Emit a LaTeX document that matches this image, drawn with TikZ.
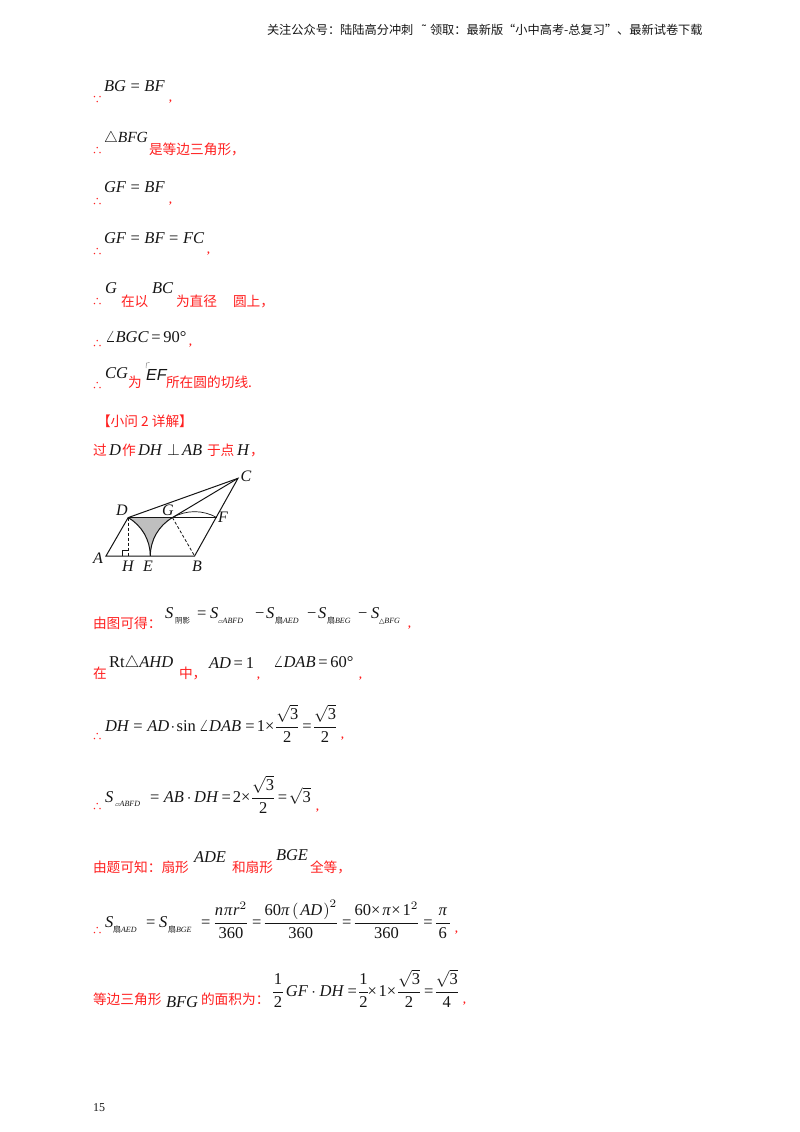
\documentclass[tikz,border=0pt]{standalone}
\usepackage{amsmath}
\usepackage{fontspec}
\usetikzlibrary{calc}
\setmainfont{Liberation Serif}
\newfontfamily\cjk{Noto Sans CJK SC}
\newfontfamily\djv{DejaVu Sans}
\newfontfamily\lsans{Liberation Sans}
\definecolor{redtx}{HTML}{FF2020}
\definecolor{ink}{HTML}{151515}
\newcounter{tn}
\newcommand\I[1]{\mbox{\itshape #1}}
\newcommand\R[1]{\mbox{#1}}
\newcommand\E{\mathrel{\mbox{=}}}
\newcommand\Em{\mkern3mu\mbox{=}\mkern3mu}
\newcommand\Et{\mkern4mu\mbox{=}\mkern2mu}
\newcommand\Es{\mkern4.5mu\mbox{=}\mkern2.5mu}
\newcommand\Eu{\mkern5.5mu\mbox{=}\mkern3.5mu}
\newcommand\Xt{\mbox{×}\mkern2mu}
\newcommand\fs[1]{\fontsize{#1}{#1}\selectfont}
\newcommand\T[4][]{\stepcounter{tn}\node[#1] (t\arabic{tn}) at (#2,-#3) {#4};}
\tikzset{
  mth/.style={anchor=base west,inner sep=0pt,outer sep=0pt,scale=1.65,text=ink},
  zh/.style={anchor=base west,inner sep=0pt,outer sep=0pt,text=redtx,font=\cjk\fs{13.7}},
  zhead/.style={anchor=base west,inner sep=0pt,outer sep=0pt,text=ink,font=\cjk\fs{12.2}},
  sublabel/.style={anchor=base west,inner sep=0pt,outer sep=0pt,text=ink,font=\itshape\fs{8}},
  reddots/.style={anchor=base west,inner sep=0pt,outer sep=0pt,yshift=-2pt,text=redtx,font=\cjk\fs{10.5}},
  redcomma/.style={anchor=base west,inner sep=0pt,outer sep=0pt,text=redtx,font=\bfseries\fs{11}},
  ptlabel/.style={inner sep=0pt,outer sep=0pt,text=ink,font=\itshape\fs{16}},
  lineedge/.style={draw=ink,line width=1pt},
  dashedge/.style={draw=ink,line width=0.8pt,dash pattern=on 3pt off 2pt}
}
\begin{document}
\nulldelimiterspace=0pt
\begin{tikzpicture}[x=1pt,y=1pt]
\useasboundingbox (0,-1132) rectangle (800,0);
\fill[white] (0,-1132) rectangle (800,0);
% header
\T[zhead]{267}{35}{关注公众号：陆陆高分冲刺}
\T[anchor=base west,inner sep=0pt,text=ink,font=\lsans\fs{12}]{422}{34}{˜}
\T[zhead]{430}{35}{领取：最新版“小中高考-总复习”、最新试卷下载}
% lines
\T[reddots]{92}{101}{∵}
\T[mth]{104}{92}{$\I{BG}\E\I{BF}$}
\T[redcomma]{169}{101}{,}
\T[reddots]{92}{152}{∴}
\T[mth,scale=0.94]{104}{142}{$\triangle\I{BFG}$}
\T[zh]{149}{154}{是等边三角形，}
\T[reddots]{92}{203}{∴}
\T[mth]{104}{192}{$\I{GF}\E\I{BF}$}
\T[redcomma]{169}{203}{,}
\T[reddots]{92}{253}{∴}
\T[mth]{104}{243}{$\I{GF}\E\I{BF}\E\I{FC}$}
\T[redcomma]{207}{253}{,}
\T[reddots]{92}{303}{∴}
\T[mth]{105}{293}{$\I{G}$}
\T[zh]{121}{306}{在以}
\T[mth]{152}{293}{$\I{BC}$}
\T[zh]{176}{306}{为直径}
\T[zh]{233}{306}{圆上，}
\T[reddots]{92}{345}{∴}
\T[mth]{105}{342}{$\angle\I{BGC}\Em\R{90°}$}
\T[redcomma]{189}{345}{,}
\T[reddots]{92}{387}{∴}
\T[mth]{105}{378}{$\I{CG}$}
\T[zh]{128}{387}{为}
\T[anchor=base west,inner sep=0pt,text=ink,font=\lsans\itshape\fs{16}]{146}{380}{EF}
\draw[gray,line width=0.5pt] (149.5,-362.5) -- (146.5,-363) -- (146,-368);
\T[zh]{166}{387}{所在圆的切线.}
\T[zh]{97}{426}{【小问 2 详解】}
\T[zh]{93}{455}{过}
\T[mth]{109}{455}{$\I{D}$}
\T[zh]{122}{455}{作}
\T[mth]{138}{455}{$\I{DH}$}
\T[mth]{167}{455}{$\perp$}
\T[mth]{182}{455}{$\I{AB}$}
\T[zh]{207}{455}{于点}
\T[mth]{237}{455}{$\I{H}$}
\T[zh]{250}{455}{，}
% figure
\coordinate (A) at (106,-556);
\coordinate (B) at (194.6,-556);
\coordinate (E) at (150.3,-556);
\coordinate (D) at (128.15,-517.6);
\coordinate (G) at (172.45,-517.6);
\coordinate (F) at (216.75,-517.6);
\coordinate (C) at (238,-478.3);
\coordinate (H) at (128.15,-556);
\fill[gray!50] (D) -- (G) arc[start angle=120,end angle=180,radius=44.3pt] arc[start angle=0,end angle=60,radius=44.3pt] -- cycle;
\draw[lineedge] (A) -- (B) -- (C) -- (D) -- cycle;
\draw[lineedge] (D) -- (F);
\draw[lineedge] (G) -- (C);
\draw[lineedge] (D) arc[start angle=60,end angle=0,radius=44.3pt];
\draw[lineedge] (G) arc[start angle=120,end angle=180,radius=44.3pt];
\draw[lineedge,line width=0.7pt] (G) arc[start angle=120,end angle=60,radius=44.3pt];
\draw[dashedge] (D) -- (H);
\draw[dashedge] (G) -- (B);
\draw[draw=ink,line width=0.6pt] ($(H)+(-5.5,0)$) |- ($(H)+(0,5.5)$);
\node[ptlabel] (lC) at (246,-476) {C};
\node[ptlabel] (lD) at (122,-510) {D};
\node[ptlabel] (lG) at (168,-510) {G};
\node[ptlabel] (lF) at (223,-517) {F};
\node[ptlabel] (lA) at (98,-558) {A};
\node[ptlabel] (lH) at (128,-566) {H};
\node[ptlabel] (lE) at (148,-566) {E};
\node[ptlabel] (lB) at (197,-566) {B};
% area line
\T[zh]{93}{628}{由图可得：}
\T[mth]{165}{618}{$\I{S}$}
\T[anchor=base west,inner sep=0pt,text=ink,font=\cjk\fs{7.5}]{175}{623}{阴影}
\T[mth]{197}{618}{$\mbox{=}$}
\T[mth]{210}{618}{$\I{S}$}
\T[sublabel]{218}{623}{{\djv\upshape\fs{6}▱}ABFD}
\T[mth]{255}{618}{$\mbox{−}$}
\T[mth]{266}{618}{$\I{S}$}
\T[sublabel]{275}{623}{{\cjk\upshape 扇}AED}
\T[mth]{307}{618}{$\mbox{−}$}
\T[mth]{318}{618}{$\I{S}$}
\T[sublabel]{327}{623}{{\cjk\upshape 扇}BEG}
\T[mth]{358}{618}{$\mbox{−}$}
\T[mth]{371}{618}{$\I{S}$}
\T[sublabel]{379}{623}{{\djv\upshape\fs{7}△}BFG}
\T[redcomma]{408}{627}{,}
\T[zh]{93}{678}{在}
\T[mth]{109}{667}{$\R{Rt}\triangle\I{AHD}$}
\T[zh]{179}{678}{中，}
\T[mth]{209}{668}{$\I{AD}\Em\R{1}$}
\T[redcomma]{257}{678}{,}
\T[mth]{273}{667}{$\angle\I{DAB}\Em\R{60°}$}
\T[redcomma]{359}{678}{,}
\T[reddots]{92}{738}{∴}
\T[mth]{105}{731}{$\I{DH}\E\I{AD}\mkern1.5mu{\cdot}\mkern1.5mu\R{sin}\,\angle\I{DAB}\Es\R{1}\Xt\dfrac{\sqrt{\R{3}}}{\R{2}}\Es\dfrac{\sqrt{\R{3}}}{\R{2}}$}
\T[redcomma]{341}{738}{,}
\T[reddots]{92}{808}{∴}
\T[mth]{105}{802}{$\I{S}$}
\T[sublabel]{115}{806}{{\djv\upshape\fs{6}▱}ABFD}
\T[mth]{150}{802}{$\E\I{AB}\mkern3mu{\cdot}\mkern3mu\I{DH}\Et\R{2}\Xt\dfrac{\sqrt{\R{3}}}{\R{2}}\Et\sqrt{\R{3}}$}
\T[redcomma]{316}{810}{,}
\T[zh]{93}{872}{由题可知：扇形}
\T[mth]{194}{862}{$\I{ADE}$}
\T[zh]{232}{872}{和扇形}
\T[mth]{276}{860}{$\I{BGE}$}
\T[zh]{310}{872}{全等，}
\T[reddots]{92}{932}{∴}
\T[mth]{105}{927}{$\I{S}$}
\T[sublabel]{113}{932}{{\cjk\upshape 扇}AED}
\T[mth]{146}{927}{$\mbox{=}$}
\T[mth]{159}{927}{$\I{S}$}
\T[sublabel]{168}{932}{{\cjk\upshape 扇}BGE}
\T[mth]{201}{927}{$\mbox{=}\mkern5mu\dfrac{\I{n}\mkern1mu\I{π}\mkern1mu\I{r}^2}{\R{360}}\Eu\dfrac{\R{60}\I{π}\left(\mkern2mu\I{AD}\mkern1mu\right)^2}{\R{360}}\Eu\dfrac{\R{60}\Xt\I{π}\mkern1mu\Xt\R{1}^2}{\R{360}}\Eu\dfrac{\mkern3mu\I{π}\mkern3mu}{\R{6}}$}
\T[redcomma]{455}{932}{,}
\T[zh]{93}{1004}{等边三角形}
\T[mth]{166}{1007}{$\I{BFG}$}
\T[zh]{201}{1004}{的面积为：}
\T[mth]{273}{996}{$\dfrac{\mkern1mu\R{1}\mkern1mu}{\R{2}}\mkern3mu\I{GF}\cdot\I{DH}\Es\dfrac{\R{1}}{\R{2}}\Xt\R{1}\Xt\dfrac{\sqrt{\R{3}}}{\R{2}}\Es\dfrac{\sqrt{\R{3}}}{\R{4}}$}
\T[redcomma]{463}{1003}{,}
\T[anchor=base west,inner sep=0pt,text=ink,font=\fs{12}]{93}{1111}{15}
\end{tikzpicture}
\end{document}
